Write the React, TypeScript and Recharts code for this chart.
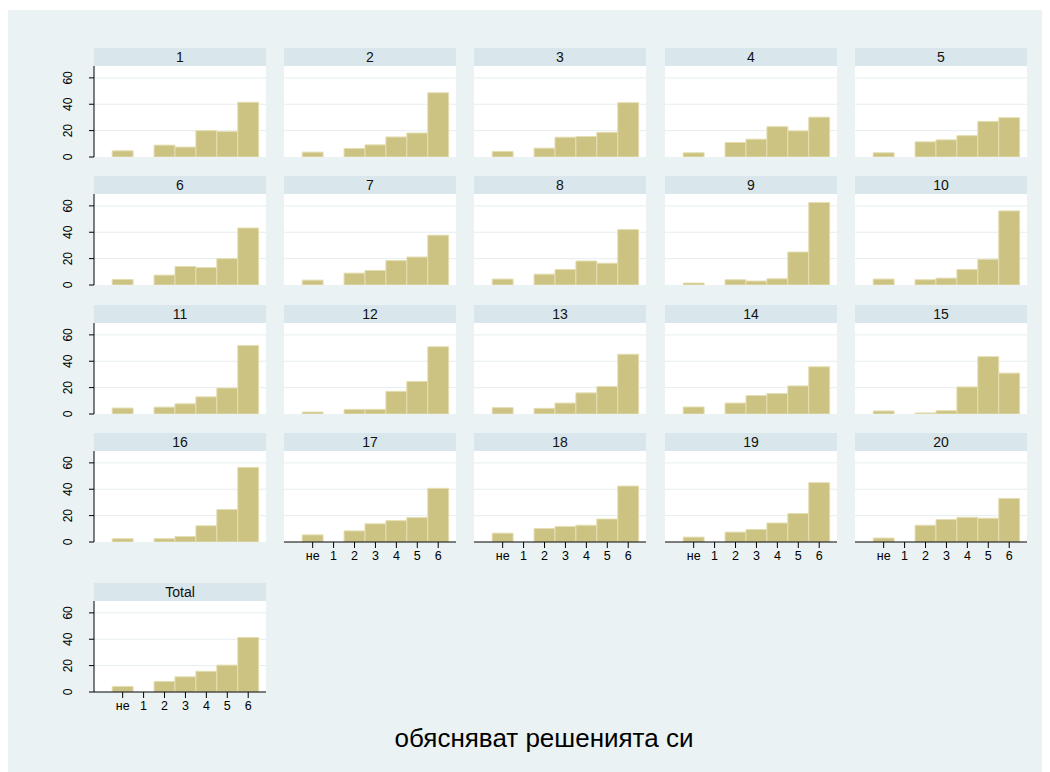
import React from 'react'
import { BarChart, Bar, XAxis, YAxis, CartesianGrid } from 'recharts'

const categories = ['не', '1', '2', '3', '4', '5', '6']
const catPos = [0, 1, 2, 3, 4, 5, 6]
const yTicks = [0, 20, 40, 60]
const panelLabels = ['1', '2', '3', '4', '5', '6', '7', '8', '9', '10', '11', '12', '13', '14', '15', '16', '17', '18', '19', '20', 'Total']

// percent per answer: не, 1, 2, 3, 4, 5, 6
const g1 = [4.7, 0, 9, 7.5, 20, 19.3, 41.5]
const g2 = [3.7, 0, 6.5, 9.2, 15.2, 18.2, 48.7]
const g3 = [4.2, 0, 6.7, 15, 15.5, 18.7, 41.2]
const g4 = [3.2, 0, 11, 13.5, 23, 19.8, 30.2]
const g5 = [3.2, 0, 11.5, 13, 16.2, 27, 29.8]
const g6 = [4.2, 0, 7.5, 14, 13.2, 20, 43.2]
const g7 = [3.7, 0, 9, 11, 18.5, 21.2, 37.8]
const g8 = [4.5, 0, 8.2, 11.7, 18.2, 16.5, 42]
const g9 = [1.5, 0, 4, 3, 4.7, 25, 62.5]
const g10 = [4.5, 0, 4, 5.2, 11.7, 19.5, 56.2]
const g11 = [4.5, 0, 5.2, 7.7, 13, 19.7, 52]
const g12 = [1.5, 0, 3.5, 3.5, 17.2, 24.7, 51]
const g13 = [4.8, 0, 4.3, 8.3, 16, 20.8, 45.3]
const g14 = [5.3, 0, 8.3, 14, 15.5, 21.3, 35.8]
const g15 = [2.3, 0, 0.8, 2.5, 20.5, 43.5, 31]
const g16 = [2.5, 0, 2.5, 4.2, 12.3, 24.6, 56.6]
const g17 = [5.4, 0, 8.4, 13.8, 16.2, 18.5, 40.7]
const g18 = [6.7, 0, 10.2, 11.7, 12.7, 17.4, 42.4]
const g19 = [3.7, 0, 7.5, 9.5, 14.4, 21.6, 45]
const g20 = [3, 0, 12.7, 17, 18.7, 18, 33]
const total = [4.2, 0, 8, 11.5, 15.7, 20.4, 41.3]

const groups = [g1, g2, g3, g4, g5, g6, g7, g8, g9, g10, g11, g12, g13, g14, g15, g16, g17, g18, g19, g20, total]

const FONT = '"Liberation Sans", Arial, sans-serif'
const PLOT_W = 172
const PLOT_H = 91
const STRIP_H = 18
const X_DOMAIN: [number, number] = [-1.37, 6.85]
const colLeft = [94, 284, 474, 665, 855]
const rowTop = [48, 176.3, 304.6, 433, 583]

const YTick = (props: any) => {
  const { x, y, payload } = props
  return (
    <text
      x={x}
      y={y}
      transform={`rotate(-90 ${x} ${y})`}
      textAnchor='middle'
      style={{ fontSize: 12, fontFamily: FONT, fill: '#000' }}
    >
      {payload.value}
    </text>
  )
}

function Panel({ label, values, left, top, showY, showX }: any) {
  const data = catPos.map((p, i) => ({ pos: p, v: values[i] }))
  const yW = showY ? 40 : 0
  const xH = showX ? 26 : 0
  return (
    <>
      <div
        style={{
          position: 'absolute',
          left: left - 8,
          top: top - 8,
          width: PLOT_W,
          height: STRIP_H,
          lineHeight: STRIP_H + 'px',
          background: '#D9E6EB',
          textAlign: 'center',
          fontFamily: FONT,
          fontSize: 14,
          color: '#111',
        }}
      >
        {label}
      </div>
      <div style={{ position: 'absolute', left: left - 8 - yW, top: top - 8 + STRIP_H }}>
        <BarChart
          width={PLOT_W + yW}
          height={PLOT_H + xH + 8}
          data={data}
          margin={{ top: 0, right: 0, bottom: 8, left: 0 }}
        >
          <CartesianGrid vertical={false} horizontalValues={[20, 40, 60]} stroke='#E6EEF0' fill='#fff' />
          <XAxis
            dataKey='pos'
            type='number'
            domain={X_DOMAIN}
            allowDataOverflow
            ticks={catPos}
            interval={0}
            tickFormatter={(v: number) => categories[v]}
            hide={!showX}
            height={26}
            axisLine={{ stroke: '#000' }}
            tickLine={{ stroke: '#000' }}
            tickSize={6}
            tickMargin={3}
            tick={{ fontSize: 12.5, fill: '#000', fontFamily: FONT }}
          />
          <YAxis
            domain={[0, 69]}
            allowDataOverflow
            ticks={yTicks}
            interval={0}
            hide={!showY}
            width={40}
            axisLine={{ stroke: '#000' }}
            tickLine={{ stroke: '#000' }}
            tickSize={5}
            tickMargin={17}
            tick={<YTick />}
          />
          <Bar dataKey='v' fill='#CCC282' stroke='#E4DEB2' strokeWidth={1} barSize={20.9} isAnimationActive={false} />
        </BarChart>
      </div>
    </>
  )
}

export default function App(): JSX.Element {
  return (
    <div style={{ position: 'relative', width: 1042, height: 764 }}>
      <div style={{ position: 'absolute', left: 0, top: 2, width: 1042, height: 762, background: '#EAF2F3' }} />
      {groups.map((vals, i) => {
        const col = i % 5
        const row = Math.floor(i / 5)
        return (
          <Panel
            key={panelLabels[i]}
            label={panelLabels[i]}
            values={vals}
            left={colLeft[col]}
            top={rowTop[row]}
            showY={col === 0}
            showX={i >= 16}
          />
        )
      })}
      <div
        style={{
          position: 'absolute',
          left: 544 - 8 - 300,
          top: 717,
          width: 600,
          textAlign: 'center',
          fontFamily: FONT,
          fontSize: 26,
          lineHeight: '26px',
          color: '#000',
        }}
      >
        обясняват решенията си
      </div>
    </div>
  )
}
